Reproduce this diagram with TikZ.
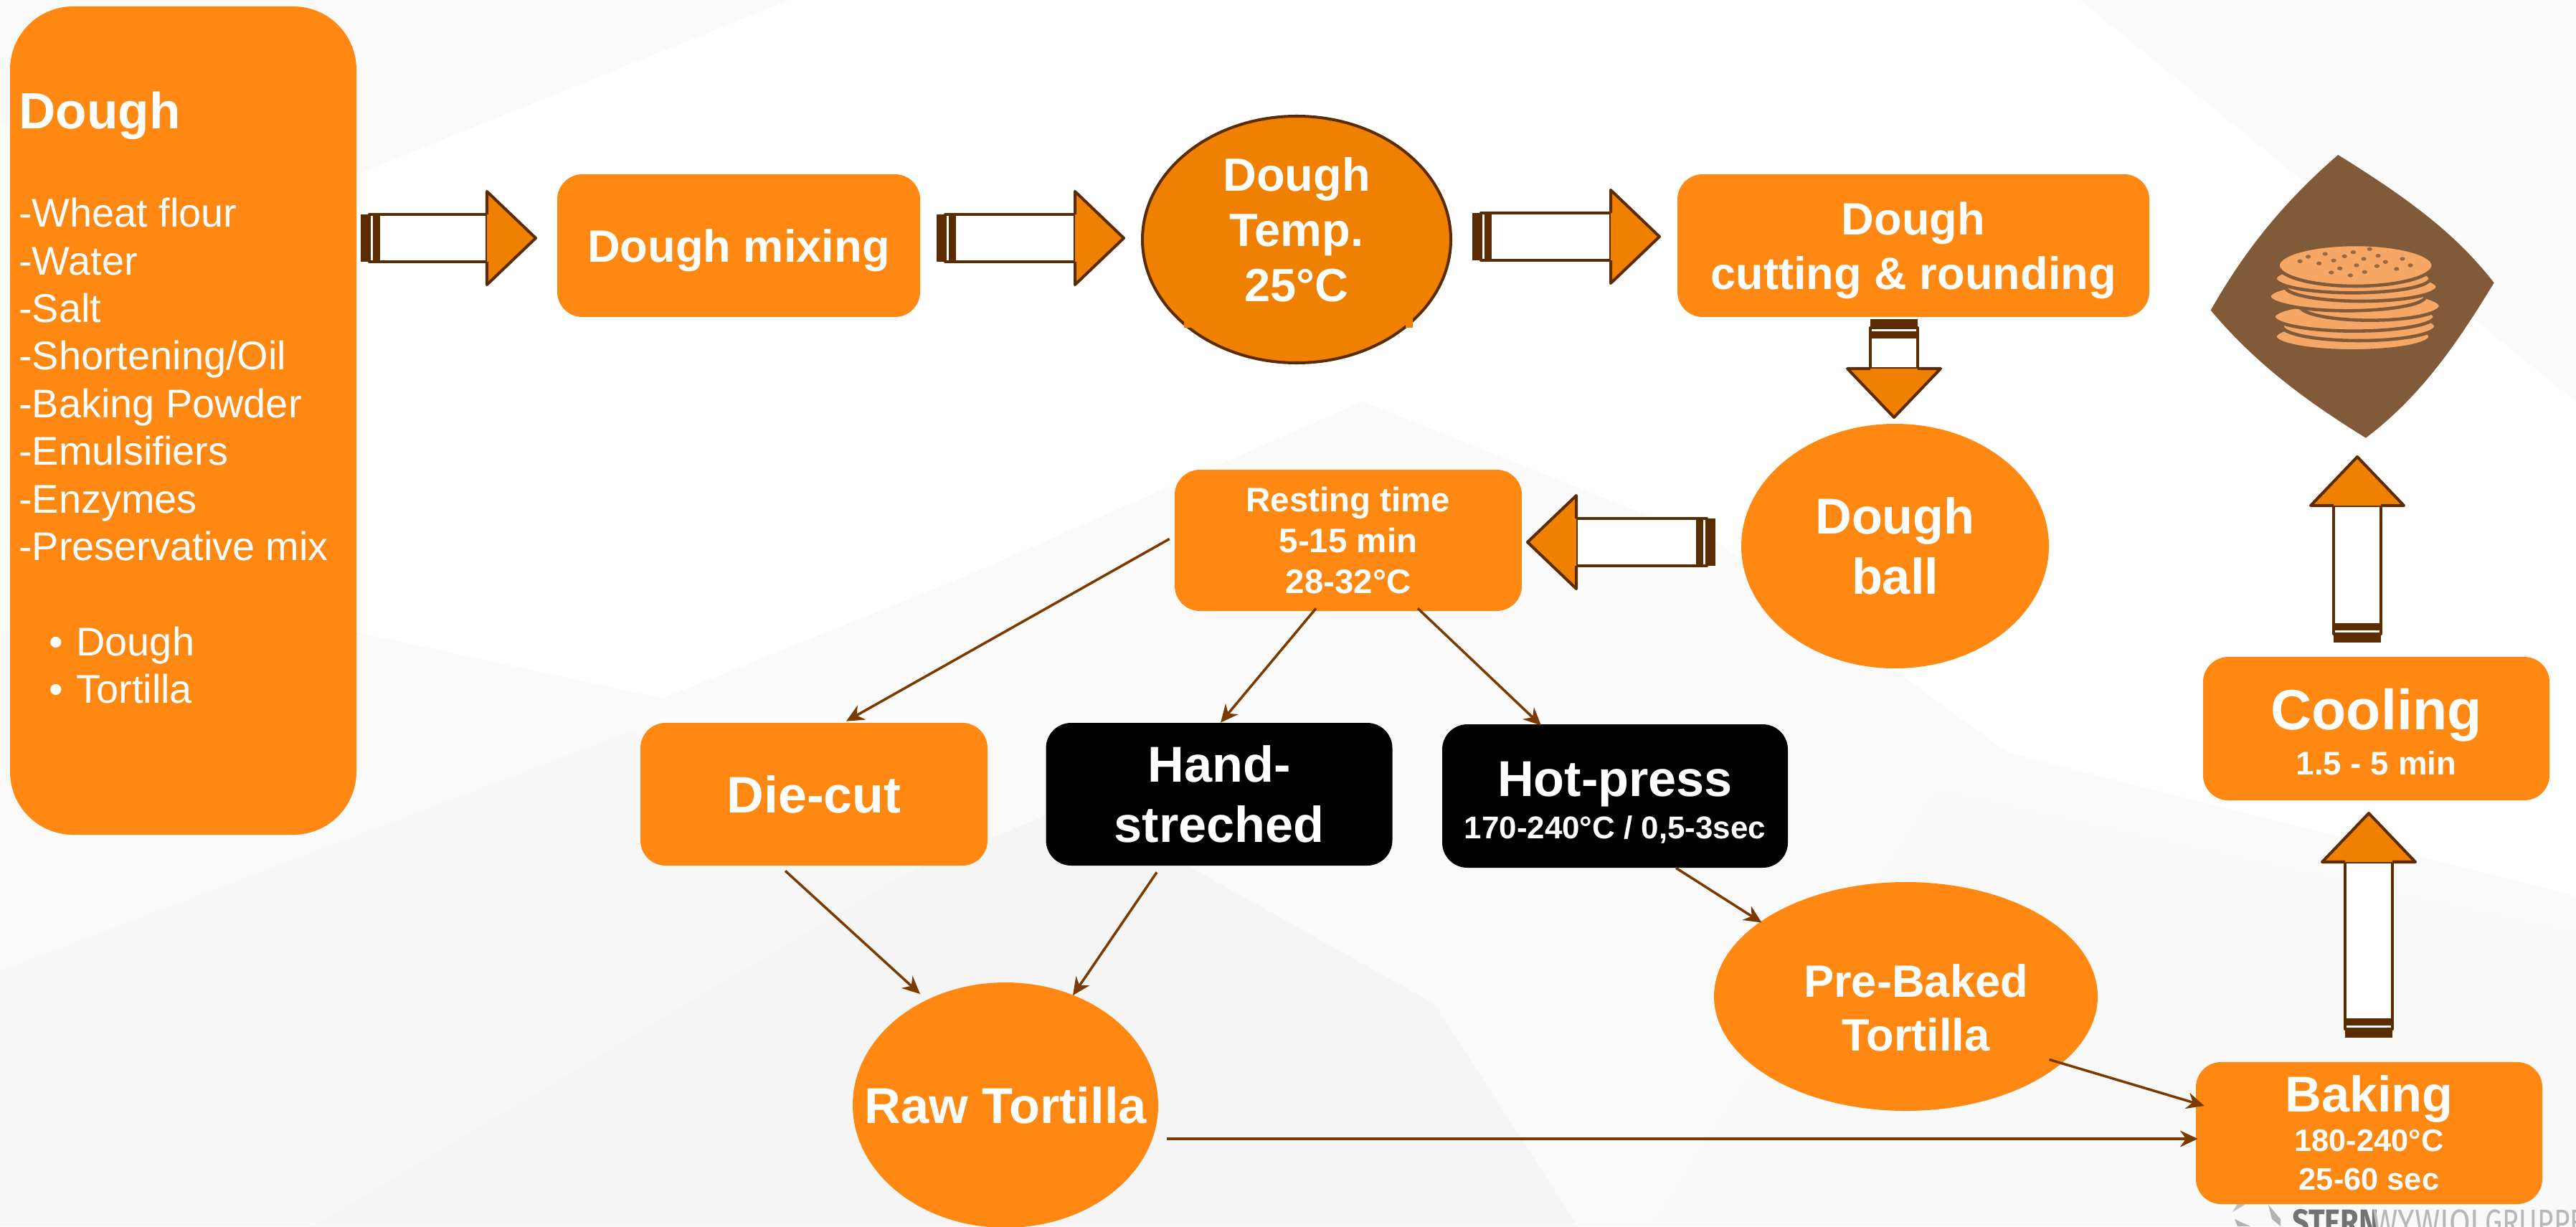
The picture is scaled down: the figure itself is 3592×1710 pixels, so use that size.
\documentclass[tikz,border=0pt]{standalone}
\usepackage{fontspec}
\setmainfont{Liberation Sans}
\newfontfamily\logofont{Fira Sans}
\usetikzlibrary{shapes.geometric,calc,arrows.meta}
\definecolor{boxor}{HTML}{FF8813}
\definecolor{heador}{HTML}{F08000}
\definecolor{brn}{HTML}{5A2C00}
\definecolor{lnk}{HTML}{7A3A00}
\definecolor{logobr}{HTML}{815A3A}
\definecolor{cake}{HTML}{F6A765}
\newcommand{\fs}[2]{\fontsize{#1pt}{#2pt}\selectfont}
\newcommand{\toprule}[1]{\rule{0pt}{#1pt}}
% tail x, tail y, rotation, total length, head length
\newcommand{\blockarrow}[5]{%
\begin{scope}[shift={(#1,#2)},rotate=#3,line join=round]
\pgfmathsetmacro{\hb}{#4-#5}
\draw[blockline,fill=white] (25,-33) rectangle (\hb,33);
\fill[brn] (0,-33) rectangle (12,33);
\draw[blockline,fill=white] (12,-33) rectangle (25,33);
\fill[brn] (17,-33) rectangle (25,33);
\draw[blockline,fill=heador] (\hb,-33) -- (\hb,-65) -- (#4,0) -- (\hb,65) -- (\hb,33);
\fill[heador] (\hb,-31) rectangle ({\hb+2},31);
\end{scope}}
\tikzset{
 x=0.02cm,y=-0.02cm,
 sz/.style 2 args={minimum width=#1*0.02cm,minimum height=#2*0.02cm},
 blockline/.style={draw=brn,line width=2.3pt},
 box/.style={rectangle,rounded corners=20pt,fill=boxor,text=white,inner sep=0pt,align=center,font=\bfseries},
 blackbox/.style={box,fill=black},
 oval/.style={ellipse,fill=boxor,text=white,inner sep=0pt,align=center,font=\bfseries},
 lnkarrow/.style={draw=lnk,line width=2pt,-{Stealth[length=14pt,width=13pt]}},
}
\begin{document}
\begin{tikzpicture}
\useasboundingbox (0,0) rectangle (3592,1710);
\clip (0,0) rectangle (3592,1710);
% background facets
\fill[white] (0,0) rectangle (3592,1710);
\fill[black!2] (0,0) -- (1100,0) -- (480,250) -- (0,170) -- cycle;
\fill[black!1.5] (2900,0) -- (3592,0) -- (3592,560) -- cycle;
\fill[black!2] (0,880) -- (494,881) -- (924,974) -- (1355,800) -- (1900,560) -- (2400,760) -- (2800,1050) -- (3592,1250) -- (3592,1710) -- (0,1710) -- cycle;
\fill[black!3] (0,1354) -- (880,1020) -- (1263,1218) -- (436,1710) -- (0,1710) -- cycle;
\fill[black!4] (436,1710) -- (1263,1218) -- (1500,1120) -- (2000,1400) -- (2200,1710) -- cycle;
\fill[black!2.5] (2300,1710) -- (2700,1100) -- (3592,1300) -- (3592,1710) -- cycle;
% stern wywiol mark
\fill[black!25] (3113,1690) -- (3130,1680) -- (3128,1665) -- cycle;
\fill[black!30] (3116,1700) -- (3138,1710) -- (3120,1710) -- cycle;
\fill[black!30] (3163,1680) -- (3180,1700) -- (3180,1710) -- (3168,1700) -- cycle;
\node[anchor=base west,inner sep=0pt,text=black!55,font={\logofont\bfseries\fs{29}{29}},xscale=.82] (stern) at (3196,1722) {STERN};
\node[anchor=base west,inner sep=0pt,text=black!28,font={\logofont\fs{29}{29}},xscale=.84] (wywiol) at (3308,1722) {WYWIOL};
\node[anchor=base west,inner sep=0pt,text=black!28,font={\logofont\fs{29}{29}},xscale=.76] (gruppe) at (3465,1722) {GRUPPE};

% nodes
\node[box,rounded corners=50pt,sz={483}{1155}] (dough) at (255.5,586.5) {};
\node[anchor=north west,inner sep=0pt,text=white,align=left,font=\fs{31.8}{37.8}] (doughtext) at (26,128)
 {{\bfseries\fs{40.5}{40.5}Dough}\\[40pt]
 -Wheat flour\\-Water\\-Salt\\-Shortening/Oil\\-Baking Powder\\-Emulsifiers\\-Enzymes\\-Preservative mix\\[37.8pt]
 \hspace{24pt}•\hspace{10.5pt}Dough\\\hspace{24pt}•\hspace{10.5pt}Tortilla};
\node[box,sz={506}{199},font=\bfseries\fs{36}{43}] (mix) at (1030,342.5) {\toprule{34}Dough mixing};
\node[oval,fill=heador,draw=brn,line width=2.3pt,sz={430}{344},font=\bfseries\fs{37}{43.8}] (temp) at (1808,334) {Dough\\Temp.\\25°C\rule[-16pt]{0pt}{0pt}};
\fill[heador] (1651,447) rectangle (1660,457);
\fill[heador] (1960,442) rectangle (1970,457);
\node[box,sz={658}{199},font=\bfseries\fs{36}{43}] (cut) at (2668,342.5) {\toprule{34}Dough\\cutting \& rounding};
\node[oval,sz={429}{341},font=\bfseries\fs{40}{48}] (ball) at (2642.5,761.5) {Dough\\ball};
\node[box,sz={484}{197},font=\bfseries\fs{27}{32.6}] (rest) at (1880,753.5) {Resting time\\5-15 min\\28-32°C};
\node[box,sz={484}{199},font=\bfseries\fs{40.8}{48}] (die) at (1135,1107.5) {Die-cut};
\node[blackbox,sz={483}{199},font=\bfseries\fs{40}{48}] (hand) at (1700,1107.5) {Hand-\\streched};
\node[blackbox,sz={482}{200},font=\bfseries\fs{40}{34}] (hot) at (2252,1110) {\toprule{38}Hot-press\\{\fs{25}{30}170-240°C / 0,5-3sec}};
\node[oval,inner xsep=-40pt,sz={426}{342},font=\bfseries\fs{40}{48}] (raw) at (1402,1541) {Raw Tortilla};
\node[oval,sz={535}{319},font=\bfseries\fs{36}{43}] (pre) at (2657.5,1389.5) {\hspace*{16pt}\toprule{44}Pre-Baked\\\hspace*{16pt}Tortilla};
\node[box,sz={483}{198},font=\bfseries\fs{40}{31}] (bake) at (3303.5,1580) {Baking\\{\fs{24.7}{31}180-240°C}\\{\fs{24.7}{31}25-60 sec}};
\node[box,sz={483}{200},font=\bfseries\fs{45}{36}] (cool) at (3313.5,1016) {\toprule{37.6}Cooling\\{\fs{26}{30}1.5 - 5 min}};

% block arrows
\blockarrow{503}{332}{0}{244}{68}
\blockarrow{1306}{332}{0}{261}{68}
\blockarrow{2053}{330}{0}{261}{68}
\blockarrow{2641}{445}{-90}{137}{68}
\blockarrow{2392}{756}{180}{262}{68}
\blockarrow{3287}{896}{90}{259}{68}
\blockarrow{3303}{1447}{90}{313}{68}

% thin connectors
\draw[lnkarrow] ($(rest.west)+(-7,-2)$) -- ($(die.north)+(45,-2)$);
\draw[lnkarrow] ($(rest.south)+(-45,-4)$) -- ($(hand.north)+(2,0)$);
\draw[lnkarrow] ($(rest.south)+(97,-4)$) -- ($(hot.north)+(-103,2)$);
\draw[lnkarrow] ($(die.south)+(-40,7)$) -- ($(raw.center)+(-119,-155)$);
\draw[lnkarrow] ($(hand.south)+(-87,9)$) -- ($(raw.center)+(94,-153)$);
\draw[lnkarrow] ($(hot.south)+(85,0)$) -- ($(pre.center)+(-201,-103)$);
\draw[lnkarrow] ($(pre.center)+(200,88)$) -- ($(bake.west)+(12,-38)$);
\draw[lnkarrow] ($(raw.center)+(225,47)$) -- ($(bake.west)+(3,8)$);

% tortilla badge, in crop units
\begin{scope}[shift={(2950,150)},x=0.00816cm,y=-0.00667cm]
\fill[logobr] (760,198) .. controls (1020,395) and (1170,540) .. (1293,733)
 .. controls (1160,1000) and (1040,1210) .. (855,1382)
 .. controls (640,1220) and (470,1060) .. (325,848)
 .. controls (440,600) and (570,400) .. (760,198) -- cycle;
\foreach \cx/\cy/\rx/\ry in {810/958/265/60,832/915/262/60,815/875/275/60,870/830/240/60,792/790/267/60,840/750/260/60,810/715/265/60,820/660/265/87}{
 \filldraw[fill=cake,draw=logobr,line width=2.6pt] (\cx,\cy) ellipse [x radius=\rx,y radius=\ry];
}
\foreach \dx/\dy in {630/643,658/624,716/612,782/622,812/605,868/592,897/620,848/633,980/633,922/646,1007/660,893/663,823/660,745/640,695/652,766/673,737/690,802/702,851/688,960/675}{
 \fill[logobr!80!cake] (\dx,\dy) ellipse [x radius=9,y radius=8];
}
\end{scope}
\end{tikzpicture}
\end{document}
